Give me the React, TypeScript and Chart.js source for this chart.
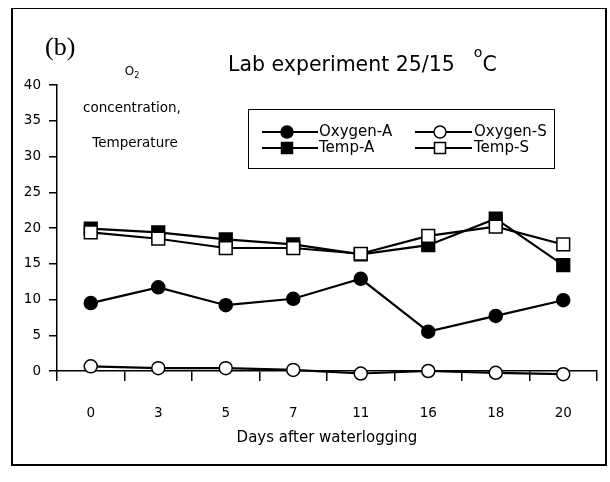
import React, { useEffect, useRef } from 'react';
import { Chart, registerables } from 'chart.js';

Chart.register(...registerables);

// ---- data ----
const days = ['0', '3', '5', '7', '11', '16', '18', '20'];
const oxygenA = [9.5, 11.7, 9.2, 10.1, 12.9, 5.5, 7.7, 9.9];
const oxygenS = [0.65, 0.4, 0.4, 0.15, -0.35, 0.0, -0.25, -0.45];
const tempA = [19.9, 19.4, 18.4, 17.7, 16.3, 17.6, 21.3, 14.8];
const tempS = [19.4, 18.5, 17.2, 17.2, 16.4, 18.9, 20.2, 17.7];
const seriesLabels = ['Oxygen-A', 'Oxygen-S', 'Temp-A', 'Temp-S'];
const yMin = 0;
const yMax = 40;
const yStep = 5;
const xTitle = 'Days after waterlogging';

const FONT = "'DejaVu Sans', sans-serif";

// custom boxed legend with line-through-marker symbols
const boxLegend = {
  id: 'boxLegend',
  afterDraw(chart: any) {
    const ctx = chart.ctx;
    const box = { x: 248, y: 109, w: 306, h: 59 };
    const cols = [
      { lineFrom: 262, lineTo: 318, mark: 287, text: 319 },
      { lineFrom: 415, lineTo: 472, mark: 440, text: 474 },
    ];
    const rows = [132, 148];
    ctx.save();
    ctx.strokeStyle = '#000';
    ctx.lineWidth = 1;
    ctx.strokeRect(box.x + 0.5, box.y + 0.5, box.w, box.h);
    chart.data.datasets.forEach((ds: any, i: number) => {
      const c = cols[i % 2];
      const y = rows[Math.floor(i / 2)];
      ctx.beginPath();
      ctx.lineWidth = 2;
      ctx.strokeStyle = '#000';
      ctx.moveTo(c.lineFrom, y);
      ctx.lineTo(c.lineTo, y);
      ctx.stroke();
      ctx.fillStyle = ds.pointBackgroundColor;
      ctx.lineWidth = 1.5;
      ctx.beginPath();
      if (ds.pointStyle === 'rect') {
        const s = 5.5;
        ctx.rect(c.mark - s, y - s, 2 * s, 2 * s);
      } else {
        ctx.arc(c.mark, y, 6, 0, Math.PI * 2);
      }
      ctx.fill();
      ctx.stroke();
      ctx.fillStyle = '#000';
      ctx.font = `15px ${FONT}`;
      ctx.textBaseline = 'middle';
      ctx.textAlign = 'left';
      ctx.fillText(ds.label, c.text, y);
    });
    ctx.restore();
  },
};

export default function App() {
  const ref = useRef<HTMLCanvasElement>(null);

  useEffect(() => {
    document.body.style.margin = '0';
    const mk = (label: string, data: number[], filled: boolean, style: string, order: number, radius: number) => ({
      label,
      data,
      borderColor: '#000',
      borderWidth: 2.2,
      pointStyle: style,
      pointRadius: radius,
      pointBorderWidth: 1.5,
      pointBorderColor: '#000',
      pointBackgroundColor: filled ? '#000' : '#fff',
      backgroundColor: filled ? '#000' : '#fff',
      tension: 0,
      clip: false,
      order,
    });
    const chart = new Chart(ref.current!, {
      type: 'line',
      data: {
        labels: days,
        datasets: [
          mk(seriesLabels[0], oxygenA, true, 'circle', 3, 6.5),
          mk(seriesLabels[1], oxygenS, false, 'circle', 2, 6.5),
          mk(seriesLabels[2], tempA, true, 'rect', 1, 9),
          mk(seriesLabels[3], tempS, false, 'rect', 0, 9),
        ] as any,
      },
      plugins: [boxLegend],
      options: {
        animation: false,
        responsive: false,
        maintainAspectRatio: false,
        layout: { padding: { left: 0, right: 13, top: 85, bottom: 0 } },
        plugins: { legend: { display: false }, tooltip: { enabled: false }, title: { display: false } },
        font: { family: FONT },
        scales: {
          x: {
            type: 'category',
            offset: true,
            grid: { display: true, drawOnChartArea: false, drawTicks: true, tickLength: 10, offset: true, color: '#000', lineWidth: 1.5 },
            border: { display: true, color: '#000', width: 1.5 },
            ticks: { color: '#000', font: { family: FONT, size: 13.5 }, padding: 24, maxRotation: 0 },
            title: { display: true, text: xTitle, color: '#000', font: { family: FONT, size: 15 }, padding: { top: 0, bottom: 35 } },
            afterFit: (s: any) => { s.height = 111; },
          },
          y: {
            min: yMin,
            max: yMax,
            grid: { display: true, drawOnChartArea: false, drawTicks: true, tickLength: 8, color: '#000', lineWidth: 1.5 },
            border: { display: true, color: '#000', width: 1.5 },
            ticks: { stepSize: yStep, color: '#000', font: { family: FONT, size: 13.5 }, padding: 8 },
            afterFit: (s: any) => { s.width = 57; },
          },
        },
      } as any,
    });
    return () => chart.destroy();
  }, []);

  const abs: React.CSSProperties = { position: 'absolute', margin: 0, color: '#000', whiteSpace: 'nowrap' };

  return (
    <div style={{ position: 'fixed', left: 0, top: 0, width: 610, height: 482, background: '#fff' }}>
      <canvas ref={ref} width={610} height={482} style={{ position: 'absolute', left: 0, top: 0, width: 610, height: 482 }} />
      <div style={{ ...abs, left: 11, top: 8, width: 596, height: 458, boxSizing: 'border-box', borderTop: '1px solid #000', borderLeft: '2px solid #000', borderRight: '2px solid #000', borderBottom: '2px solid #000', pointerEvents: 'none' }} />
      <div style={{ ...abs, left: 45, top: 33.5, fontFamily: "'Liberation Serif', serif", fontSize: 26, lineHeight: '26px' }}>(b)</div>
      <div style={{ ...abs, left: 228, top: 51.5, fontFamily: FONT, fontSize: 20.5, lineHeight: '20.5px' }}>
        Lab experiment 25/15
        <span style={{ fontSize: 14, verticalAlign: '14px', lineHeight: 0, marginLeft: 19 }}>o</span>C
      </div>
      <div style={{ ...abs, left: 72, top: 64.8, width: 120, textAlign: 'center', fontFamily: FONT, fontSize: 12, lineHeight: '12px' }}>
        O<span style={{ fontSize: 8, verticalAlign: '-3px', lineHeight: 0 }}>2</span>
      </div>
      <div style={{ ...abs, left: 72, top: 101.3, width: 120, textAlign: 'center', fontFamily: FONT, fontSize: 13.5, lineHeight: '13.5px' }}>concentration,</div>
      <div style={{ ...abs, left: 75, top: 136.3, width: 120, textAlign: 'center', fontFamily: FONT, fontSize: 13.5, lineHeight: '13.5px' }}>Temperature</div>
    </div>
  );
}
